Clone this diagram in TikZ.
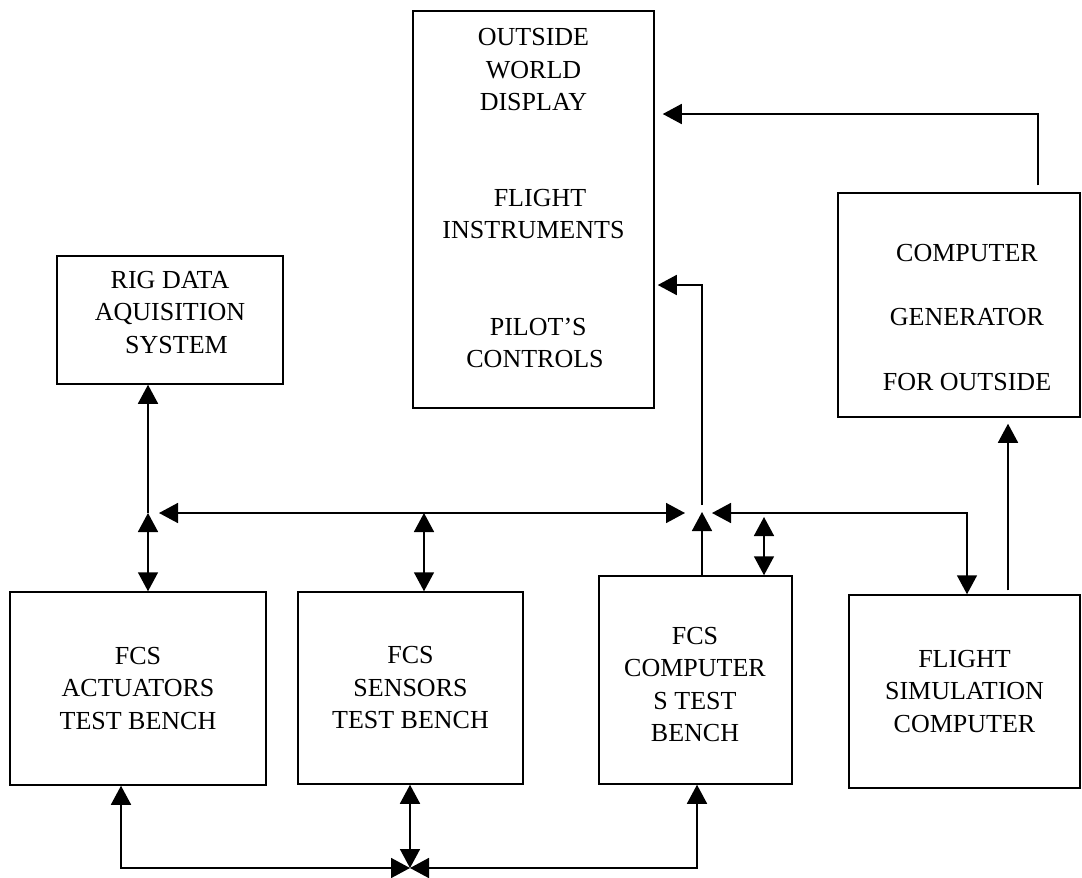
\documentclass[tikz,border=0pt]{standalone}
\usepackage{fontspec}
\setmainfont{Liberation Serif}
\usetikzlibrary{arrows.meta}
\begin{document}
\begin{tikzpicture}[x=1pt,y=-1pt,
  box/.style={draw, line width=1.5pt, inner sep=0pt, align=center,
    font=\fontsize{26}{32.5}\selectfont},
  txt/.style={align=center, inner sep=0pt, font=\fontsize{26}{32.5}\selectfont},
  conn/.style={line width=1.6pt},
  >={Triangle[length=19pt,width=20pt]}]
\useasboundingbox (0,0) rectangle (1082,878);

% boxes
\node[box, minimum width=226pt, minimum height=128pt] (rig) at (170,320) {};
\node[txt] (rigt) at (170,312.5) {RIG DATA\\AQUISITION\\\ \ SYSTEM};
\node[box, minimum width=241pt, minimum height=397pt] (out) at (533.5,209.5) {};
\node[txt] (owd) at (533.5,70) {OUTSIDE\\WORLD\\DISPLAY};
\node[txt] (fi) at (533.5,214) {\ \ FLIGHT\\INSTRUMENTS};
\node[txt] (pc) at (535,343) {\ PILOT’S\\CONTROLS};
\node[box, minimum width=242pt, minimum height=224pt] (gen) at (959,305) {};
\node[txt] (gent) at (967,317.5) {COMPUTER\\[32pt]GENERATOR\\[32pt]FOR OUTSIDE};
\node[box, minimum width=256pt, minimum height=193pt] (act) at (138,688.5) {FCS\\ACTUATORS\\TEST BENCH};
\node[box, minimum width=225pt, minimum height=192pt] (sen) at (410.5,688) {FCS\\SENSORS\\TEST BENCH};
\node[box, minimum width=193pt, minimum height=208pt] (cmp) at (695.5,680) {};
\node[txt] (cmpt) at (695,684.5) {FCS\\COMPUTER\\S TEST\\BENCH};
\node[box, minimum width=231pt, minimum height=193pt] (sim) at (964.5,691.5) {FLIGHT\\SIMULATION\\COMPUTER};

% junction points
\coordinate (jl) at (148,513);
\coordinate (jc) at (702,513);
\coordinate (busL) at (159,513);
\coordinate (busR) at (685,513);
\coordinate (busR2) at (712,513);
\coordinate (jb) at (410,868);

% upper bus
\draw[conn,->] (jl) -- (rig.south -| jl);
\draw[conn,<->] (jl) -- (act.north -| jl);
\draw[conn,<->] (busL) -- (busR);
\draw[conn,<->] (sen.north -| 424,0) -- (424,513);
\draw[conn,->] (cmp.north -| jc) -- (702,512);
\draw[conn,->] (702,505) |- ([xshift=3pt]out.east |- 0,285);
\draw[conn,<->] (busR2) -| (sim.north -| 967,0);
\draw[conn,<->] (764,517) -- (cmp.north -| 764,0);
\draw[conn,->] (sim.north -| 1008,0) ++(0,-4) -- ([yshift=-6pt]gen.south -| 1008,0);
\draw[conn,->] ([yshift=7pt]gen.north -| 1038,0) |- ([xshift=8pt]out.east |- 0,114);

% lower bus
\draw[conn,<->] (jb) -| (act.south -| 121,0);
\draw[conn,<->] (jb) -| (cmp.south -| 697,0);
\draw[conn,<->] (sen.south -| jb) -- (jb);
\end{tikzpicture}
\end{document}
